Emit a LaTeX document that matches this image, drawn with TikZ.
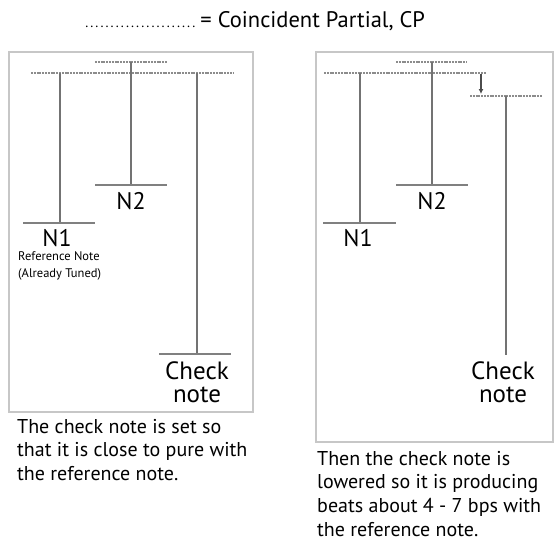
\documentclass[tikz,border=0pt]{standalone}
\usepackage{fontspec}
\setmainfont{PT Sans}
\usetikzlibrary{arrows.meta}
% a row of small spaced dots standing for a coincident partial
\newcommand\cpdots{{\fontsize{14}{14}\selectfont\foreach \i in {1,...,22}{\makebox[5.1pt]{.}}}}
\begin{document}
\begin{tikzpicture}[x=1pt,y=-1pt,
  panel/.style={draw=black!22,line width=1.6pt},
  partial/.style={draw=black!45,line width=1.3pt,dash pattern=on 2pt off 0.8pt},
  stem/.style={draw=black!55,line width=2.2pt},
  base/.style={draw=black!50,line width=2.6pt},
  lbl/.style={inner sep=0pt,text depth=0pt,font=\fontsize{24}{23}\selectfont},
  chk/.style={inner sep=0pt,align=center,font=\fontsize{25}{23}\selectfont},
  small/.style={inner sep=0pt,font=\fontsize{12.5}{17.5}\selectfont,align=left},
  caption/.style={inner sep=0pt,anchor=north west,align=left,font=\fontsize{20}{23.6}\selectfont},
  drop/.style={draw=black!70,line width=1.4pt,-{Latex[length=5pt,width=5pt]}}]
\useasboundingbox (0,0) rectangle (556,550);

% legend
\node[inner sep=0pt,anchor=base west,font=\fontsize{22.5}{22.5}\selectfont] (legend) at (84,27)
  {\cpdots\hspace{4pt}= Coincident Partial, CP};

% ---------- left panel ----------
\draw[panel] (9,52) rectangle (253,412);
\coordinate (La) at (31,73);   \coordinate (Lb) at (233,73);
\coordinate (Lc) at (95,62);   \coordinate (Ld) at (167,62);
\draw[partial] (La) -- (Lb);
\draw[partial] (Lc) -- (Ld);
% N1
\coordinate (L1t) at (60,73);  \coordinate (L1b) at (60,223);
\coordinate (L1l) at (23,223); \coordinate (L1r) at (95,223);
\draw[stem] (L1t) -- (L1b);
\draw[base] (L1l) -- (L1r);
% N2
\coordinate (L2t) at (131,62); \coordinate (L2b) at (131,185);
\coordinate (L2l) at (95,185); \coordinate (L2r) at (167,185);
\draw[stem] (L2t) -- (L2b);
\draw[base] (L2l) -- (L2r);
% check note
\coordinate (L3t) at (197,73); \coordinate (L3b) at (197,354);
\coordinate (L3l) at (159,354); \coordinate (L3r) at (231,354);
\draw[stem] (L3t) -- (L3b);
\draw[base] (L3l) -- (L3r);

\node[lbl] (ln1) at (57,238) {N1};
\node[lbl] (ln2) at (131,201) {N2};
\node[small,anchor=north west] (lref) at (18,251) {Reference Note\\(Already Tuned)};
\node[chk] (lchk) at (197,382) {Check\\note};
\node[caption] (lcap) at (17,419)
  {The check note is set so\\that it is close to pure with\\the reference note.};

% ---------- right panel ----------
\draw[panel] (316,52) rectangle (553,442);
\coordinate (Ra) at (324,73);  \coordinate (Rb) at (486,73);
\coordinate (Rc) at (396,62);  \coordinate (Rd) at (467,62);
\coordinate (Re) at (470,96);  \coordinate (Rf) at (542,96);
\draw[partial] (Ra) -- (Rb);
\draw[partial] (Rc) -- (Rd);
\draw[partial] (Re) -- (Rf);
% N1
\coordinate (R1t) at (360,73);  \coordinate (R1b) at (360,223);
\coordinate (R1l) at (323,223); \coordinate (R1r) at (396,223);
\draw[stem] (R1t) -- (R1b);
\draw[base] (R1l) -- (R1r);
% N2
\coordinate (R2t) at (432,62);  \coordinate (R2b) at (432,185);
\coordinate (R2l) at (396,185); \coordinate (R2r) at (468,185);
\draw[stem] (R2t) -- (R2b);
\draw[base] (R2l) -- (R2r);
% lowered check note
\coordinate (R3t) at (506,96);  \coordinate (R3b) at (506,355);
\draw[stem] (R3t) -- (R3b);
\coordinate (Rdt) at (481,74);  \coordinate (Rdb) at (481,94);
\draw[drop] (Rdt) -- (Rdb);

\node[lbl] (rn1) at (358,238) {N1};
\node[lbl] (rn2) at (432,201) {N2};
\node[chk] (rchk) at (503,382) {Check\\note};
\node[caption] (rcap) at (317,451)
  {Then the check note is\\lowered so it is producing\\beats about 4 - 7 bps with\\the reference note.};
\end{tikzpicture}
\end{document}
